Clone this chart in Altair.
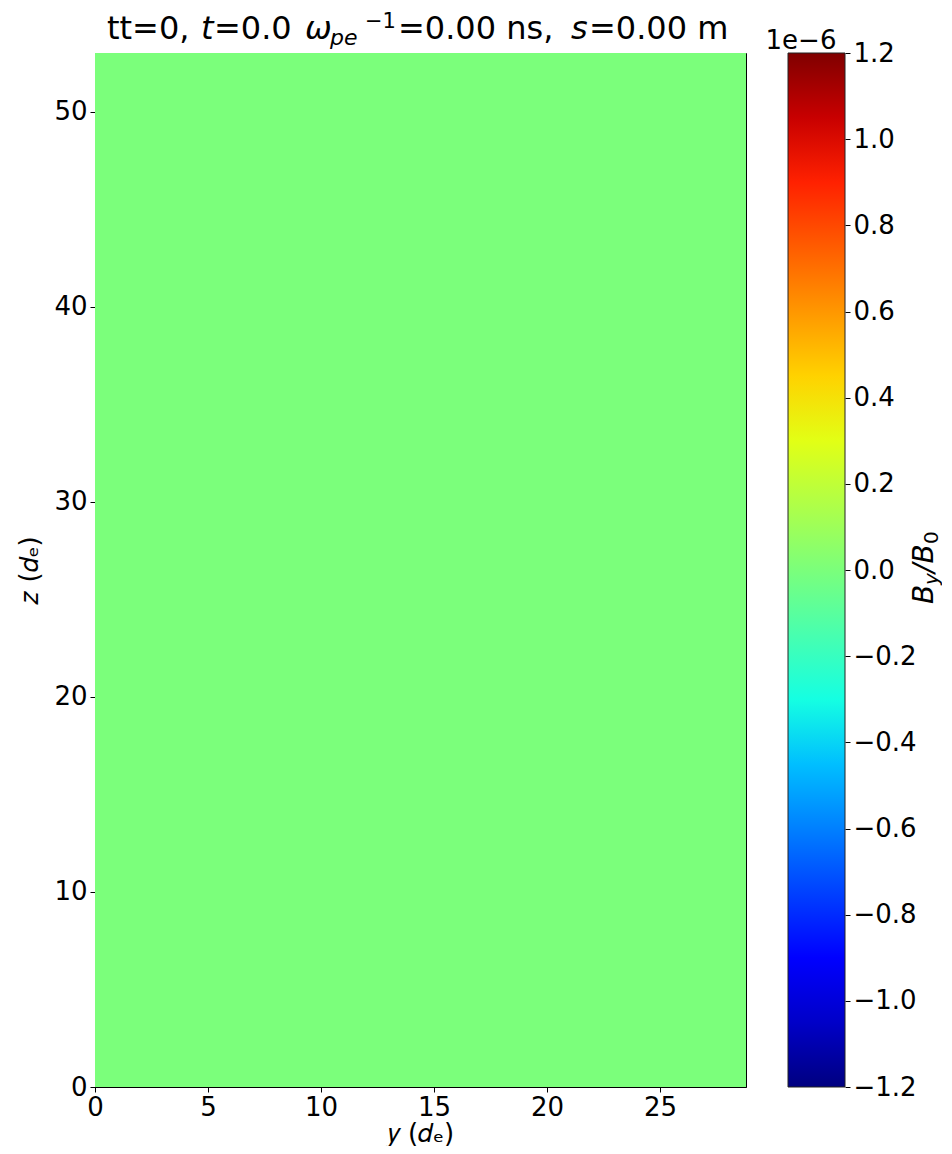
import altair as alt
import pandas as pd

# ---- data ----
y_extent = [0.0, 28.8]          # horizontal axis: y (d_e)
z_extent = [0.0, 53.0]          # vertical axis: z (d_e)
field_value = [0.0]             # B_y/B_0 everywhere (uniform field)
x_ticks = [0, 5, 10, 15, 20, 25]
z_ticks = [0, 10, 20, 30, 40, 50]
cbar_limits = [-1.2, 1.2]       # colorbar range, in units of 1e-6
cbar_ticks = [-1.2, -1.0, -0.8, -0.6, -0.4, -0.2, 0.0, 0.2, 0.4, 0.6, 0.8, 1.0, 1.2]
cbar_multiplier = "1e−6"
title_parts = ["tt=0, ", "t", "=0.0 ", "ω", "pe", "−1", "=0.00 ns, ", "s", "=0.00 m"]
cbar_label_parts = ["B", "y", "/B", "0"]

# ---- styling ----
FONT = "DejaVu Sans"
W, H = 651, 1034
CB_X0, CB_X1 = 693, 750         # colorbar position, px from plot origin

# jet colormap stops
jet = ["#000080", "#0000c8", "#0000ff", "#0040ff", "#0080ff", "#00bfff",
       "#15ffe2", "#48ffaf", "#7bff7b", "#afff48", "#e2ff15", "#ffd200",
       "#ff9700", "#ff5c00", "#ff2100", "#c80000", "#800000"]
n = len(jet)
lo, hi = cbar_limits[0] * 1e-6, cbar_limits[1] * 1e-6
color_domain = [lo + (hi - lo) * i / (n - 1) for i in range(n)]

heat_df = pd.DataFrame({
    "y0": [y_extent[0]], "y1": [y_extent[1]],
    "z0": [z_extent[0]], "z1": [z_extent[1]],
    "v": field_value,
})

heat_rect = alt.Chart(heat_df).mark_rect().encode(
    x=alt.X("y0:Q", scale=alt.Scale(domain=y_extent, nice=False, zero=False),
            axis=alt.Axis(values=x_ticks, title="𝑦 (𝑑ₑ)", labelFlush=False,
                          labelPadding=2, titlePadding=0)),
    x2="y1",
    y=alt.Y("z0:Q", scale=alt.Scale(domain=z_extent, nice=False, zero=False),
            axis=alt.Axis(orient="left", values=z_ticks, title="𝑧 (𝑑ₑ)",
                          labelFlush=False, titlePadding=11)),
    y2="z1",
    color=alt.Color("v:Q", scale=alt.Scale(domain=color_domain, range=jet), legend=None),
)

grad = alt.LinearGradient(
    gradient="linear",
    stops=[alt.GradientStop(offset=i / (n - 1), color=c) for i, c in enumerate(jet)],
    x1=0, x2=0, y1=1, y2=0,
)

cb_df = pd.DataFrame({"lo": [cbar_limits[0]], "hi": [cbar_limits[1]]})
cbar_rect = alt.Chart(cb_df).mark_rect(fill=grad, stroke="#222222", strokeWidth=1).encode(
    x=alt.value(CB_X0), x2=alt.value(CB_X1),
    y=alt.Y("lo:Q", scale=alt.Scale(domain=cbar_limits, nice=False, zero=False),
            axis=alt.Axis(orient="right", offset=CB_X1 - W, values=cbar_ticks, format=".1f",
                          labelExpr="replace(datum.label, '-', '−')",
                          labelFlush=False, title=None, domain=False)),
    y2="hi",
)

# title segments: (x px, size, italic, baseline y px) relative to plot origin
title_layout = [
    (12, 32, False, -14),
    (106, 32, True, -14),
    (119, 32, False, -14),
    (210, 32, True, -14),
    (235, 22, True, -8),
    (270, 21, False, -25),
    (303, 32, False, -14),
    (476, 32, True, -14),
    (494, 32, False, -14),
]
text_layers = []
for txt, (tx, sz, it, ty) in zip(title_parts, title_layout):
    text_layers.append(
        alt.Chart(pd.DataFrame({"t": [txt]})).mark_text(
            font=FONT, fontSize=sz, fontStyle="italic" if it else "normal",
            align="left", baseline="alphabetic", color="black",
        ).encode(text="t:N", x=alt.value(tx), y=alt.value(ty))
    )

text_layers.append(
    alt.Chart(pd.DataFrame({"t": [cbar_multiplier]})).mark_text(
        font=FONT, fontSize=26, align="center", baseline="alphabetic", color="black",
    ).encode(text="t:N", x=alt.value(CB_X0 + 13), y=alt.value(-4))
)

# colorbar label B_y/B_0 built from segments (rotated, reading upward)
cx = CB_X0 + 145
cy0 = 551
cb_layout = [(0, 28, 0), (19, 20, 5), (31, 28, 0), (60, 20, 5)]
for txt, (off, sz, dy) in zip(cbar_label_parts, cb_layout):
    text_layers.append(
        alt.Chart(pd.DataFrame({"t": [txt]})).mark_text(
            font=FONT, fontSize=sz, fontStyle="italic" if txt != "0" else "normal",
            angle=270, align="left", baseline="alphabetic", dy=dy, color="black",
        ).encode(text="t:N", x=alt.value(cx), y=alt.value(cy0 - off))
    )

chart = alt.layer(heat_rect, cbar_rect, *text_layers).resolve_scale(
    y="independent"
).properties(
    width=W, height=H,
    padding={"left": 8, "top": 3, "right": 0, "bottom": 0},
).configure_axis(
    labelFont=FONT, titleFont=FONT, labelFontSize=26, titleFontSize=26,
    labelColor="black", titleColor="black", tickColor="black", domainColor="black",
    grid=False, tickSize=5, labelPadding=3, titleFontWeight="normal",
).configure_view(stroke="black", strokeWidth=1)

chart.save("out.html", embed_options={"renderer": "svg", "actions": False})
